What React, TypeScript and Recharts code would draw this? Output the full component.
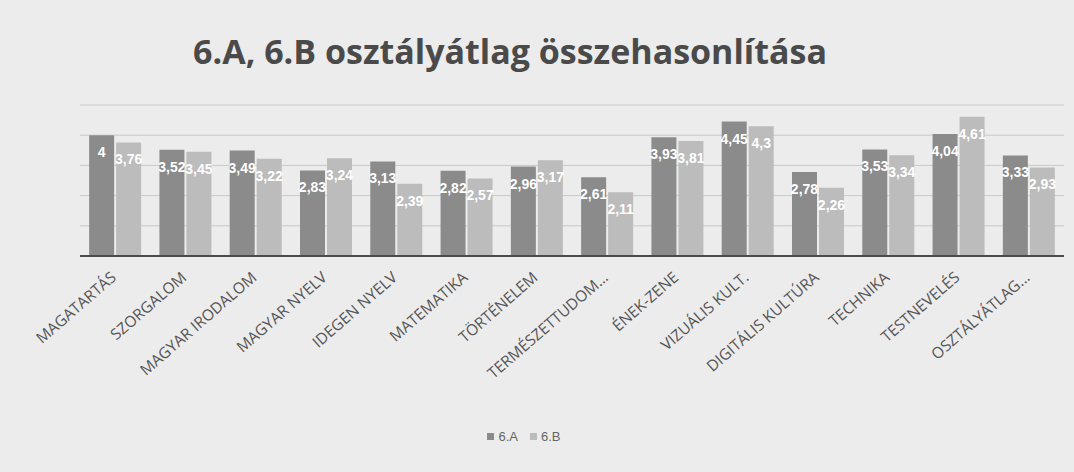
import React from "react";
import {
  BarChart,
  Bar,
  XAxis,
  YAxis,
  CartesianGrid,
  LabelList,
} from "recharts";

const subjects = [
  "MAGATARTÁS",
  "SZORGALOM",
  "MAGYAR IRODALOM",
  "MAGYAR NYELV",
  "IDEGEN NYELV",
  "MATEMATIKA",
  "TÖRTÉNELEM",
  "TERMÉSZETTUDOM...",
  "ÉNEK-ZENE",
  "VIZUÁLIS KULT.",
  "DIGITÁLIS KULTÚRA",
  "TECHNIKA",
  "TESTNEVELÉS",
  "OSZTÁLYÁTLAG...",
];

const classA = [4, 3.52, 3.49, 2.83, 3.13, 2.82, 2.96, 2.61, 3.93, 4.45, 2.78, 3.53, 4.04, 3.33];
const classB = [3.76, 3.45, 3.22, 3.24, 2.39, 2.57, 3.17, 2.11, 3.81, 4.3, 2.26, 3.34, 4.61, 2.93];

const yTicks = [0, 1, 2, 3, 4, 5];

const data = subjects.map((name, i) => ({ name, a: classA[i], b: classB[i] }));

const COLOR_A = "#8b8b8b";
const COLOR_B = "#bcbcbc";

const fmt = (v: any) => String(v).replace(".", ",");

const AngledTick = ({ x, y, payload }: any) => (
  <text
    x={x + 2}
    y={y + 15}
    transform={`rotate(-41 ${x + 2} ${y + 15})`}
    textAnchor="end"
    fill="#555"
    fontSize={15.5}
    fontFamily="'Open Sans', sans-serif"
  >
    {payload.value}
  </text>
);

const LegendBox = () => (
  <div
    style={{
      position: "absolute",
      left: 0,
      top: 429,
      width: 1048,
      display: "flex",
      justifyContent: "center",
      gap: 12,
      fontFamily: "'Liberation Sans', Arial, sans-serif",
      fontSize: 13,
      color: "#666",
    }}
  >
    {[
      ["6.A", COLOR_A],
      ["6.B", COLOR_B],
    ].map(([label, c]) => (
      <span key={label} style={{ display: "flex", alignItems: "center", gap: 4 }}>
        <span style={{ width: 7, height: 7, background: c, display: "inline-block" }} />
        {label}
      </span>
    ))}
  </div>
);

export default function App() {
  return (
    <div
      style={{
        position: "absolute",
        left: 0,
        top: 0,
        width: 1074,
        height: 472,
        background: "#ececec",
        overflow: "hidden",
      }}
    >
      <div
        style={{
          position: "absolute",
          left: 0,
          top: 28,
          width: 1020,
          textAlign: "center",
          fontFamily: "'Open Sans', sans-serif",
          fontWeight: 700,
          fontSize: 34,
          color: "#4a4a4a",
        }}
      >
        6.A, 6.B osztályátlag összehasonlítása
      </div>
      <BarChart
        width={1074}
        height={472}
        data={data}
        margin={{ top: 105, right: 10, left: 80, bottom: 186 }}
        barCategoryGap="13%"
        barGap={2}
      >
        <CartesianGrid vertical={false} stroke="#c9c9c9" />
        <YAxis hide domain={[0, 5]} ticks={yTicks} />
        <XAxis
          dataKey="name"
          interval={0}
          height={30}
          tick={<AngledTick />}
          tickLine={false}
          axisLine={{ stroke: "#4a4a4a", strokeWidth: 2 }}
        />
        <Bar dataKey="a" name="6.A" fill={COLOR_A} isAnimationActive={false}>
          <LabelList
            dataKey="a"
            position="insideTop"
            offset={12}
            formatter={fmt}
            fill="#fff"
            fontSize={14}
            fontWeight={700}
            fontFamily="'Liberation Sans', Arial, sans-serif"
          />
        </Bar>
        <Bar dataKey="b" name="6.B" fill={COLOR_B} isAnimationActive={false}>
          <LabelList
            dataKey="b"
            position="insideTop"
            offset={12}
            formatter={fmt}
            fill="#fff"
            fontSize={14}
            fontWeight={700}
            fontFamily="'Liberation Sans', Arial, sans-serif"
          />
        </Bar>
      </BarChart>
      <LegendBox />
    </div>
  );
}
